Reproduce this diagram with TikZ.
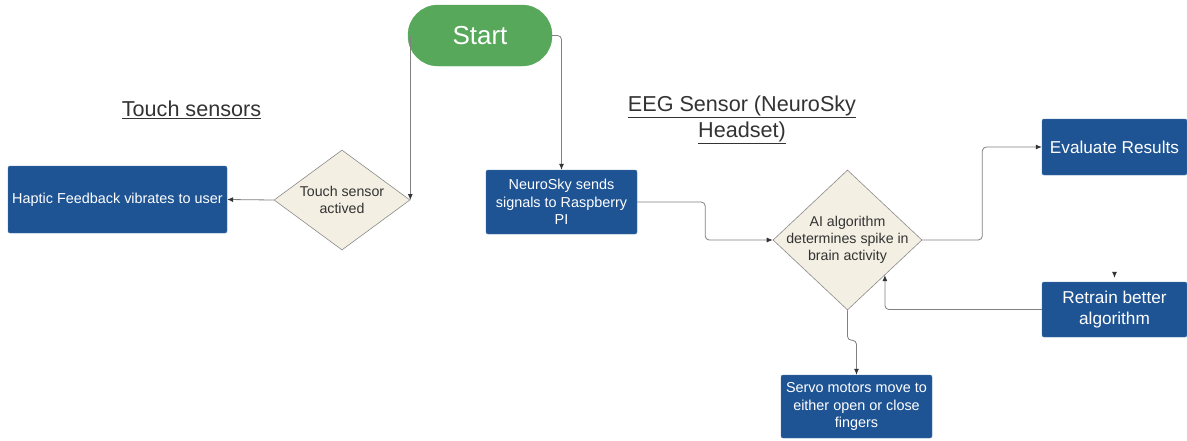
\documentclass[tikz,border=0pt]{standalone}
\usepackage{fontspec}
\setmainfont{Liberation Sans}
\usepackage{tikz}
\usetikzlibrary{shapes.geometric,arrows.meta}
\definecolor{BoxBlue}{HTML}{1F5494}
\definecolor{StartGreen}{HTML}{57A85A}
\definecolor{DecisionFill}{HTML}{F3EFE3}
\definecolor{DecisionLine}{HTML}{8A8A8A}
\definecolor{FlowGray}{HTML}{808080}
\definecolor{TextDark}{HTML}{333333}
\tikzset{
  actbox/.style={
    draw=BoxBlue!85!white,fill=BoxBlue,rounded corners=2pt,
    text=white,align=center,inner sep=2pt,
    font=\fontsize{14.4}{17.3}\selectfont
  },
  startnode/.style={
    draw=StartGreen,fill=StartGreen,rounded corners=30pt,
    minimum width=144pt,minimum height=61pt,
    text=white,font=\fontsize{26}{30}\selectfont
  },
  decision/.style={
    diamond,draw=DecisionLine,fill=DecisionFill,line width=0.6pt,inner sep=0pt
  },
  dtext/.style={
    text=TextDark,align=center,inner sep=0pt,
    font=\fontsize{14.2}{17.2}\selectfont
  },
  heading/.style={
    text=TextDark,align=center,
    font=\fontsize{21.6}{26}\selectfont
  },
  flow/.style={
    draw=FlowGray,line width=0.8pt,rounded corners=4pt,
    -{Latex[length=6pt,width=5pt,color=TextDark]}
  },
}

\begin{document}
\begin{tikzpicture}[x=1pt,y=-1pt]
  \useasboundingbox (0,0) rectangle (1187,440);
  \node[startnode] (start) at (480, 35.5) {Start};
  \node[heading] (touchhead) at (191.5, 110) {\underline{Touch sensors}};
  \node[heading] (eeghead) at (742, 120) {\underline{EEG Sensor (NeuroSky}\\\underline{Headset)}};
  \node[actbox, minimum width=219pt, minimum height=67pt] (haptic) at (117.5, 199.5) {Haptic Feedback vibrates to user};
  \node[decision, minimum width=136pt, minimum height=100pt] (touch) at (342, 200) {};
  \node[dtext] (touchtext) at (touch) {Touch sensor\\actived};
  \node[actbox, minimum width=151pt, minimum height=64pt] (neuro) at (561.5, 202) {NeuroSky sends\\signals to Raspberry\\PI};
  \node[decision, minimum width=149pt, minimum height=140pt] (ai) at (847.5, 240) {};
  \node[dtext] (aitext) at (ai) {AI algorithm\\determines spike in\\brain activity};
  \node[actbox, minimum width=145pt, minimum height=56pt, font=\fontsize{17.2}{21}\selectfont] (eval) at (1114.5, 147) {Evaluate Results};
  \node[actbox, minimum width=145pt, minimum height=55pt, font=\fontsize{17.2}{21}\selectfont] (retrain) at (1114.5, 309.5) {Retrain better\\algorithm};
  \node[actbox, minimum width=151pt, minimum height=63pt] (servo) at (856.5, 406.5) {Servo motors move to\\either open or close\\fingers};
  % connectors
  \draw[flow] (start.west -| touch.east) -- (touch.east);
  \draw[flow] (start.east) -| (neuro.north);
  \draw[flow] (touch.west) -- (haptic.east);
  \draw[flow] (neuro.east) -- ++(68,0) |- (ai.west);
  \draw[flow] (ai.east) -- ++(60,0) |- (eval.west);
  \draw[flow, draw=white, shorten <=3pt, shorten >=4pt] (eval.south) -- (retrain.north);
  \draw[flow] (retrain.west) -| (ai.south east);
  \draw[flow] (ai.south) -- ++(0,30) -| (servo.north);
\end{tikzpicture}
\end{document}
